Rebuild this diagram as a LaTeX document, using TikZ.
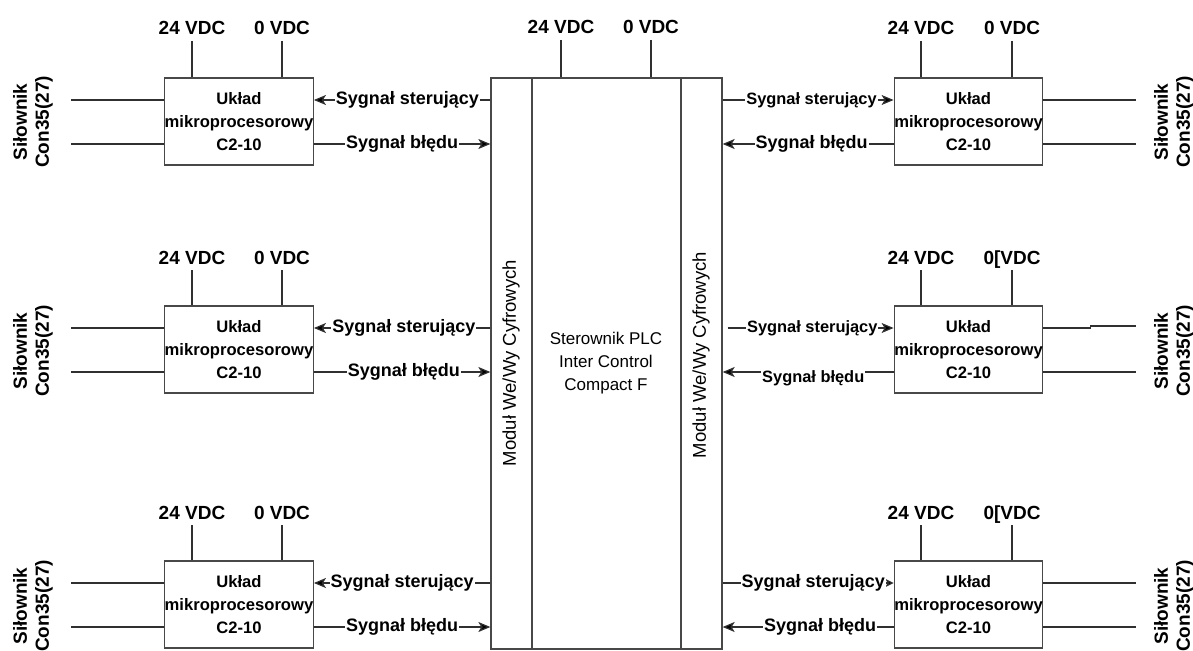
\documentclass[tikz,border=0pt]{standalone}
\usepackage{fontspec}
\setmainfont{Liberation Sans}
\usetikzlibrary{arrows.meta,calc}
\definecolor{wirec}{HTML}{303030}
\definecolor{edgec}{HTML}{484848}
\tikzset{
  ubox/.style={draw=edgec, line width=1.3pt, fill=white, minimum width=146pt, minimum height=87pt,
    inner sep=0pt, align=center, font=\fontsize{16.6}{23}\selectfont\bfseries},
  colbox/.style={draw=edgec, line width=1.3pt, minimum height=571pt, inner sep=0pt},
  wire/.style={draw=wirec, line width=1.2pt},
  sigarrow/.style={arrows={-Stealth[length=12pt,width=10pt,inset=3pt,fill=black]}},
  sigarrowsmall/.style={arrows={-Stealth[length=8pt,width=8pt,inset=2pt,fill=black]}},
  sl/.style={fill=white, inner sep=1pt, font=\fontsize{18}{20}\selectfont\bfseries},
  slsmall/.style={fill=white, inner sep=1pt, font=\fontsize{16.4}{20}\selectfont\bfseries},
  vdc/.style={inner sep=0pt, anchor=base, font=\fontsize{19}{20}\selectfont\bfseries},
  act/.style={rotate=90, align=center, inner sep=0pt, font=\fontsize{19}{22}\selectfont\bfseries},
  modt/.style={rotate=90, inner sep=0pt, font=\fontsize{18.5}{20}\selectfont},
  plct/.style={align=center, inner sep=0pt, font=\fontsize{17}{23}\selectfont}
}
\begin{document}
\begin{tikzpicture}[x=1pt,y=-1pt]
\useasboundingbox (0,0) rectangle (1193,650);

% central block
\node[colbox, minimum width=41pt] (mL) at (511.5,363.5) {};
\node[colbox, minimum width=149pt] (plc) at (606.5,363.5) {};
\node[colbox, minimum width=41pt] (mR) at (701.5,363.5) {};
\node[modt] (mLt) at (511,363) {Moduł We/Wy Cyfrowych};
\node[modt] (mRt) at (701,355) {Moduł We/Wy Cyfrowych};
\node[plct] (plcT) at (606,363) {Sterownik PLC\\Inter Control\\Compact F};

% central supply
\node[vdc] (Cp) at (561,34) {24 VDC};
\node[vdc] (Cn) at (651,34) {0 VDC};
\draw[wire] ([yshift=-6pt]Cp.base) -- (Cp.base |- mL.north);
\draw[wire] ([yshift=-6pt]Cn.base) -- (Cn.base |- mL.north);

% boxes
\node[ubox] (L1) at (239,121.5) {Układ\\mikroprocesorowy\\C2-10};
\node[ubox] (L2) at (239,349.5) {Układ\\mikroprocesorowy\\C2-10};
\node[ubox] (L3) at (239,604.5) {Układ\\mikroprocesorowy\\C2-10};
\node[ubox] (R1) at (968.5,121.5) {Układ\\mikroprocesorowy\\C2-10};
\node[ubox] (R2) at (968.5,349.5) {Układ\\mikroprocesorowy\\C2-10};
\node[ubox] (R3) at (968.5,604.5) {Układ\\mikroprocesorowy\\C2-10};

% supply labels
\node[vdc] (L1p) at (192,35) {24 VDC};  \node[vdc] (L1n) at (282,35) {0 VDC};
\node[vdc] (L2p) at (192,264) {24 VDC}; \node[vdc] (L2n) at (282,264) {0 VDC};
\node[vdc] (L3p) at (192,519) {24 VDC}; \node[vdc] (L3n) at (282,519) {0 VDC};
\node[vdc] (R1p) at (921,35) {24 VDC};  \node[vdc] (R1n) at (1012,35) {0 VDC};
\node[vdc] (R2p) at (921,264) {24 VDC}; \node[vdc] (R2n) at (1012,264) {0[VDC};
\node[vdc] (R3p) at (921,519) {24 VDC}; \node[vdc] (R3n) at (1012,519) {0[VDC};
\foreach \b in {L1,L2,L3,R1,R2,R3}{
  \draw[wire] ([yshift=-6pt]\b p.base) -- (\b p.base |- \b.north);
  \draw[wire] ([yshift=-6pt]\b n.base) -- (\b n.base |- \b.north);
}

% connection points
\foreach \b in {L1,L2,L3}{
  \coordinate (\b c) at ([yshift=21.5pt]\b.east);
  \coordinate (\b e) at ([yshift=-22.5pt]\b.east);
  \draw[wire] ([yshift=21.5pt]\b.west) -- ++(-93,0);
  \draw[wire] ([yshift=-22.5pt]\b.west) -- ++(-93,0);
}
\foreach \b in {R1,R2,R3}{
  \coordinate (\b c) at ([yshift=21.5pt]\b.west);
  \coordinate (\b e) at ([yshift=-22.5pt]\b.west);
  \draw[wire] ([yshift=-22.5pt]\b.east) -- ++(93,0);
}
\draw[wire] ([yshift=21.5pt]R1.east) -- ++(93,0);
\draw[wire] ([yshift=21.5pt]R2.east) -- ++(47,0) -- ++(0,-2) -- ++(46,0);
\draw[wire] ([yshift=21.5pt]R3.east) -- ++(93,0);

% actuators
\node[act] (A1) at (33,122) {Siłownik\\Con35(27)};
\node[act] (A2) at (33,351) {Siłownik\\Con35(27)};
\node[act] (A3) at (33,606) {Siłownik\\Con35(27)};
\node[act] (B1) at (1174,122) {Siłownik\\Con35(27)};
\node[act] (B2) at (1174,351) {Siłownik\\Con35(27)};
\node[act] (B3) at (1174,606) {Siłownik\\Con35(27)};

% left signals
\draw[wire,sigarrow] (L1c -| mL.west) -- node[sl,pos=0.47]{Sygnał sterujący} (L1c);
\draw[wire,sigarrow] (L1e) -- node[sl,pos=0.5]{Sygnał błędu} (L1e -| mL.west);
\draw[wire,sigarrow] (L2c -| mL.west) -- node[sl,pos=0.49]{Sygnał sterujący} (L2c);
\draw[wire,sigarrow] (L2e) -- node[sl,pos=0.51]{Sygnał błędu} (L2e -| mL.west);
\draw[wire,sigarrow] (L3c -| mL.west) -- node[sl,pos=0.5]{Sygnał sterujący} (L3c);
\draw[wire,sigarrow] (L3e) -- node[sl,pos=0.5]{Sygnał błędu} (L3e -| mL.west);

% right signals
\draw[wire,sigarrow] (R1c -| mR.east) -- node[slsmall,pos=0.52]{Sygnał sterujący} (R1c);
\draw[wire,sigarrow] (R1e) -- node[sl,pos=0.48]{Sygnał błędu} (R1e -| mR.east);
\draw[wire,sigarrow] ([xshift=5pt]R2c -| mR.east) -- node[slsmall,pos=0.51]{Sygnał sterujący} (R2c);
\draw[wire,sigarrow] (R2e) -- node[slsmall,pos=0.47,yshift=-6pt]{Sygnał błędu} (R2e -| mR.east);
\draw[wire,sigarrowsmall] (R3c -| mR.east) -- node[sl,pos=0.53]{Sygnał sterujący} (R3c);
\draw[wire,sigarrow] (R3e) -- node[sl,pos=0.43]{Sygnał błędu} (R3e -| mR.east);
\end{tikzpicture}
\end{document}
